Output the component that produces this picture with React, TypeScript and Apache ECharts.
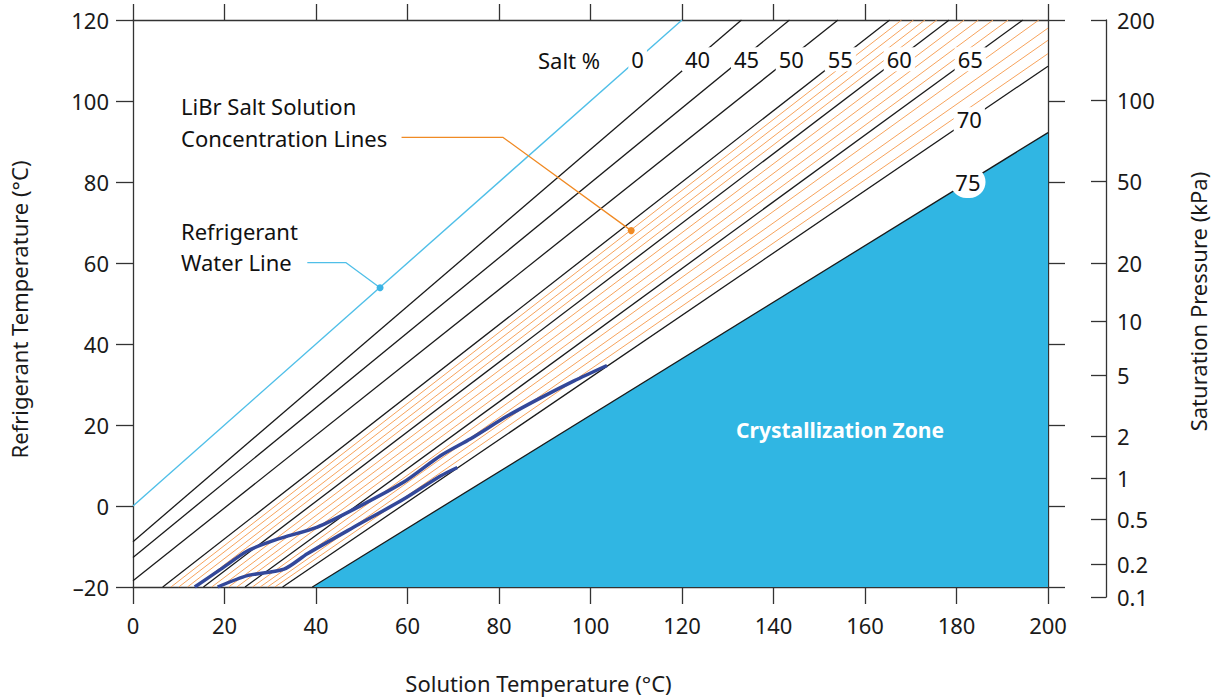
import React, { useEffect, useRef } from "react";
import * as echarts from "echarts";

const FONT = "'Noto Sans', 'Open Sans', sans-serif";

// Black LiBr concentration lines (salt %), each given by two read points [solution T, refrigerant T]
const saltLevels = [40, 45, 50, 55, 60, 65, 70];
const saltLineStart = [[0, -8.8], [0, -12.7], [0, -18.45], [6.5, -20], [15.4, -20], [24.5, -20], [32.7, -20]];
const saltLineEnd = [[133.0, 120], [143.5, 120], [154.1, 120], [165.4, 120], [178.4, 120], [194.5, 120], [200, 108.6]];

// Thin orange 1% lines (56-59, 61-64, 66-69)
const orangeStart = [[8.3, -20], [10.0, -20], [11.9, -20], [13.6, -20], [17.2, -20], [19.1, -20], [20.9, -20], [22.7, -20], [26.1, -20], [27.8, -20], [29.4, -20], [31.0, -20]];
const orangeEnd = [[168.0, 120], [170.6, 120], [173.1, 120], [175.7, 120], [181.7, 120], [184.8, 120], [188.0, 120], [191.3, 120], [198.0, 120], [200, 118.0], [200, 115.0], [200, 111.7]];

// Refrigerant water line (0 %)
const waterLine = [[0, 0], [120, 120]];

// 75 % line = crystallization boundary
const crystalLine = [[39.2, -20], [200, 92.2]];

// Cycle curves
const upperCurve = [[13.5, -20], [19.2, -15.6], [25.0, -11.1], [31.6, -8.2], [40.3, -5.2], [49.8, 0.1], [59.2, 5.9], [67.2, 12.4], [73.8, 16.6], [81.8, 22.2], [89.1, 26.7], [96.4, 30.9], [103.6, 34.7]];
const lowerCurve = [[18.5, -20], [25.0, -17.2], [33.0, -15.6], [38.1, -11.8], [48.3, -5.2], [59.2, 1.7], [67.2, 7.4], [70.9, 9.5]];

// Salt % labels on lines
const saltLabelText = ["0", "40", "45", "50", "55", "60", "65", "70", "75"];
const saltLabelX = [110.3, 123.4, 134.1, 143.9, 154.6, 167.5, 183.0, 182.8, 182.5];
const saltLabelY = [110.3, 110.3, 110.3, 110.3, 110.3, 110.3, 110.3, 95.5, 80.0];

// Leaders
const concLeader = [[58.7, 91.0], [80.9, 91.0], [108.9, 68.0]];
const waterLeader = [[38.1, 60.1], [46.5, 60.1], [54.0, 53.9]];

// Right axis: saturation pressure ticks and their refrigerant temperatures
const pressureTicks = [200, 100, 50, 20, 10, 5, 2, 1, 0.5, 0.2, 0.1];
const pressureTemps = [120, 100.2, 80.2, 60.1, 45.7, 32.5, 17.4, 7.1, -3.1, -14.1, -22.2];

const AX = "#333";

export default function App() {
  const ref = useRef<HTMLDivElement>(null);
  useEffect(() => {
    if (!ref.current) return;
    const chart = echarts.init(ref.current, null, { renderer: "svg" });
    const lineS = (data: number[][], color: string, width: number, z = 2, smooth: any = false) => ({
      type: "line",
      data,
      symbol: "none",
      smooth,
      clip: true,
      silent: true,
      z,
      lineStyle: { color, width },
    });
    const series: any[] = [];
    orangeStart.forEach((s, i) => series.push(lineS([s, orangeEnd[i]], "#F7A35C", 1, 2)));
    saltLevels.forEach((_, i) => series.push(lineS([saltLineStart[i], saltLineEnd[i]], "#1a1a1a", 1.3, 3)));
    series.push(lineS(waterLine, "#4FBFE8", 1.4, 3));
    series.push({
      ...lineS(crystalLine, "#1a1a1a", 1.3, 3),
      areaStyle: { color: "#30B6E3", opacity: 1, origin: "start" },
    });
    series.push(lineS(upperCurve, "#33489A", 3.5, 5, 0.25));
    series.push(lineS(lowerCurve, "#33489A", 3.5, 5, 0.25));
    series.push(lineS(concLeader, "#F08A24", 1.3, 6));
    series.push(lineS(waterLeader, "#4FBFE8", 1.3, 6));
    series.push({
      type: "scatter",
      silent: true,
      z: 7,
      symbolSize: 7,
      data: [
        { value: concLeader[2], itemStyle: { color: "#F08A24", opacity: 1 } },
        { value: waterLeader[2], itemStyle: { color: "#3BB4E5", opacity: 1 } },
      ],
    });
    series.push({
      type: "scatter",
      silent: true,
      z: 10,
      symbolSize: 1,
      itemStyle: { color: "rgba(255,255,255,0)", opacity: 1 },
      data: saltLabelX.map((x, i) => ({
        value: [x, saltLabelY[i]],
        label:
          saltLabelText[i] === "75"
            ? { formatter: "75", borderRadius: 17, padding: [5, 5, 5, 5] }
            : { formatter: saltLabelText[i] },
      })),
      label: {
        show: true,
        position: "inside",
        color: "#111",
        opacity: 1,
        fontSize: 22,
        fontFamily: FONT,
        backgroundColor: "#ffffff",
        padding: [1, 3],
      },
    });

    const tickStyle = { lineStyle: { color: AX, width: 1.3 } };
    const option: any = {
      animation: false,
      grid: [
        { left: 132, right: 167, top: 20, bottom: 111 },
        { left: 1100, right: 109, top: 20, bottom: 102 },
      ],
      xAxis: [
        {
          type: "value", gridIndex: 0, min: 0, max: 200, interval: 20, position: "bottom",
          axisLine: { onZero: false, lineStyle: { color: AX, width: 1.3 } },
          axisTick: { length: 17, ...tickStyle },
          axisLabel: { fontSize: 22, color: "#1a1a1a", fontFamily: FONT, margin: 27 },
          splitLine: { show: false },
          name: "Solution Temperature (°C)", nameLocation: "middle", nameGap: 85,
          nameTextStyle: { fontSize: 22, color: "#1a1a1a", fontFamily: FONT, padding: [0, 104, 0, 0] },
        },
        {
          type: "value", gridIndex: 0, min: 0, max: 200, interval: 20, position: "top",
          axisLine: { onZero: false, lineStyle: { color: AX, width: 1.3 } },
          axisTick: { length: 16, ...tickStyle },
          axisLabel: { show: false },
          splitLine: { show: false },
        },
        { type: "value", gridIndex: 1, min: 0, max: 1, show: false },
      ],
      yAxis: [
        {
          type: "value", gridIndex: 0, min: -20, max: 120, interval: 20, position: "left",
          axisLine: { show: true, onZero: false, lineStyle: { color: AX, width: 1.3 } },
          axisTick: { show: true, length: 17, ...tickStyle },
          axisLabel: {
            fontSize: 22, color: "#1a1a1a", fontFamily: FONT, margin: 24,
            formatter: (v: number) => (v < 0 ? "–" + Math.abs(v) : String(v)),
          },
          splitLine: { show: false },
          name: "Refrigerant Temperature (°C)", nameLocation: "middle", nameGap: 103, nameRotate: 90,
          nameTextStyle: { fontSize: 22, color: "#1a1a1a", fontFamily: FONT, padding: [0, 12, 0, 0] },
        },
        {
          type: "value", gridIndex: 0, min: -20, max: 120, interval: 20, position: "right",
          axisLine: { show: true, onZero: false, lineStyle: { color: AX, width: 1.3 } },
          axisTick: { show: true, length: 17, ...tickStyle },
          axisLabel: { show: false },
          splitLine: { show: false },
        },
        {
          type: "value", gridIndex: 1, min: -22.2, max: 120, position: "right",
          axisLine: { show: true, onZero: false, lineStyle: { color: AX, width: 1.3 } },
          axisTick: { show: true, inside: true, length: 15, customValues: pressureTemps, ...tickStyle },
          axisLabel: {
            show: true, customValues: pressureTemps, margin: 11,
            fontSize: 22, color: "#1a1a1a", fontFamily: FONT,
            formatter: (v: number) => {
              const i = pressureTemps.findIndex((t) => Math.abs(t - v) < 0.05);
              return i >= 0 ? String(pressureTicks[i]) : "";
            },
          },
          splitLine: { show: false },
          name: "Saturation Pressure (kPa)", nameLocation: "middle", nameGap: 81, nameRotate: 90,
          nameTextStyle: { fontSize: 22, color: "#1a1a1a", fontFamily: FONT, padding: [0, 0, 0, 14] },
        },
      ],
      graphic: [
        { type: "text", x: 569, y: 60, style: { text: "Salt %", fontSize: 22, fontFamily: FONT, fill: "#111", align: "center", verticalAlign: "middle" }, z: 20 },
        { type: "text", x: 181, y: 106, style: { text: "LiBr Salt Solution", fontSize: 22, fontFamily: FONT, fill: "#111", verticalAlign: "middle" }, z: 20 },
        { type: "text", x: 181, y: 138, style: { text: "Concentration Lines", fontSize: 22, fontFamily: FONT, fill: "#111", verticalAlign: "middle" }, z: 20 },
        { type: "text", x: 181, y: 231, style: { text: "Refrigerant", fontSize: 22, fontFamily: FONT, fill: "#111", verticalAlign: "middle" }, z: 20 },
        { type: "text", x: 181, y: 262, style: { text: "Water Line", fontSize: 22, fontFamily: FONT, fill: "#111", verticalAlign: "middle" }, z: 20 },
        { type: "text", x: 840, y: 430, style: { text: "Crystallization Zone", fontSize: 21, fontWeight: "bold", fontFamily: FONT, fill: "#fff", align: "center", verticalAlign: "middle" }, z: 20 },
      ],
      series,
    };
    chart.setOption(option);
    return () => chart.dispose();
  }, []);
  return <div ref={ref} style={{ width: 1215, height: 699, position: "absolute", left: 0, top: 0 }} />;
}
